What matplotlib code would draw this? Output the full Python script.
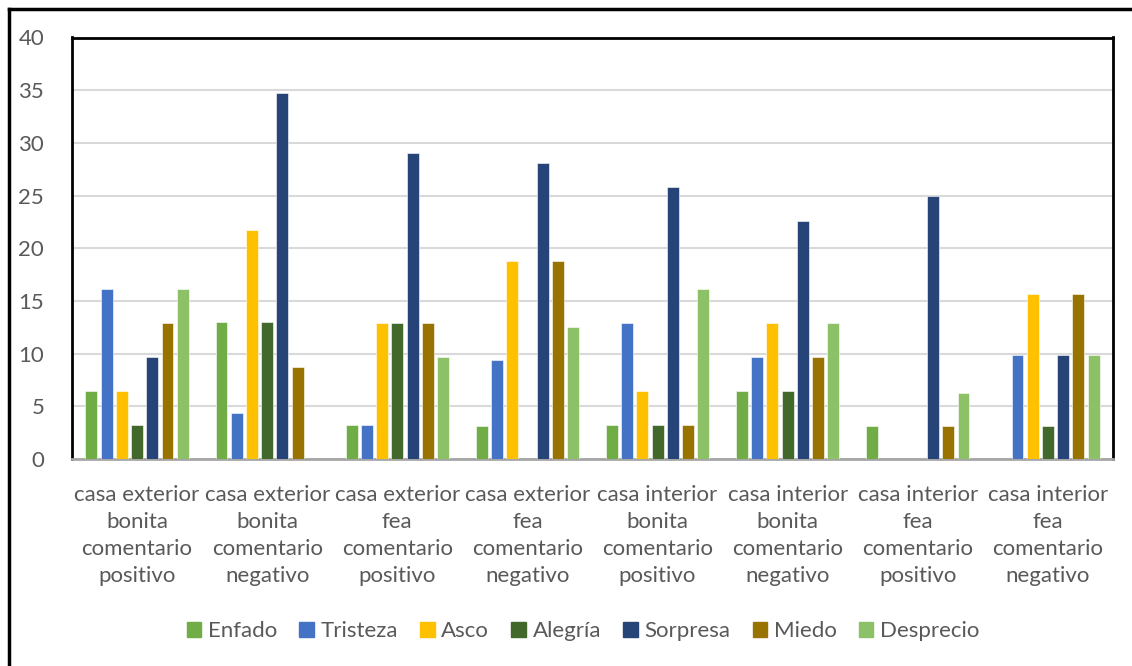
import numpy as np
import matplotlib
matplotlib.use("Agg")
import matplotlib.pyplot as plt
from matplotlib.lines import Line2D

plt.rcParams['font.family'] = ['Lato', 'DejaVu Sans']

categories = [
    "casa exterior\nbonita\ncomentario\npositivo",
    "casa exterior\nbonita\ncomentario\nnegativo",
    "casa exterior\nfea\ncomentario\npositivo",
    "casa exterior\nfea\ncomentario\nnegativo",
    "casa interior\nbonita\ncomentario\npositivo",
    "casa interior\nbonita\ncomentario\nnegativo",
    "casa interior\nfea\ncomentario\npositivo",
    "casa interior\nfea\ncomentario\nnegativo",
]

enfado = [6.45, 13.04, 3.23, 3.13, 3.23, 6.45, 3.13, 0]
tristeza = [16.13, 4.35, 3.23, 9.38, 12.9, 9.68, 0, 9.84]
asco = [6.45, 21.74, 12.9, 18.75, 6.45, 12.9, 0, 15.63]
alegria = [3.23, 13.04, 12.9, 0, 3.23, 6.45, 0, 3.13]
sorpresa = [9.68, 34.78, 29.03, 28.13, 25.81, 22.58, 25.0, 9.84]
miedo = [12.9, 8.7, 12.9, 18.75, 3.23, 9.68, 3.13, 15.63]
desprecio = [16.13, 0, 9.68, 12.5, 16.13, 12.9, 6.25, 9.84]

series_names = ["Enfado", "Tristeza", "Asco", "Alegría", "Sorpresa", "Miedo", "Desprecio"]
series_values = [enfado, tristeza, asco, alegria, sorpresa, miedo, desprecio]
colors = ["#70AD47", "#4472C4", "#FFC000", "#43682B", "#264478", "#997300", "#8CC168"]

TEXT = "#595959"

fig = plt.figure(figsize=(11.32, 6.66), dpi=100)
ax = fig.add_axes([72 / 1132, 1 - 459 / 666, (1113 - 72) / 1132, (459 - 37.5) / 666])

x = np.arange(len(categories))
step = 0.117
width = 0.092
for i, (name, vals, col) in enumerate(zip(series_names, series_values, colors)):
    offs = (i - 3) * step
    ax.bar(x + offs, vals, width=width, color=col, edgecolor="white",
           linewidth=0.4, label=name, zorder=3)

ax.set_xlim(-0.5, len(categories) - 0.5)
ax.set_ylim(0, 40)
ax.set_yticks(np.arange(0, 41, 5))
ax.yaxis.grid(True, color="#D9D9D9", linewidth=1.5, zorder=0)
ax.set_axisbelow(True)

ax.set_xticks(x)
ax.set_xticklabels(categories, fontsize=16, color=TEXT, linespacing=1.42)
ax.tick_params(axis="x", length=0, pad=19)
ax.tick_params(axis="y", length=0, pad=20, labelsize=16, labelcolor=TEXT)

for side in ["left", "top", "right"]:
    ax.spines[side].set_color("black")
    ax.spines[side].set_linewidth(2)
ax.spines["bottom"].set_color("#A6A6A6")
ax.spines["bottom"].set_linewidth(2)

handles = [plt.Rectangle((0, 0), 1, 1, color=c) for c in colors]
fig.legend(handles, series_names, loc="center", bbox_to_anchor=(0.515, 1 - 631 / 666),
           ncol=7, frameon=False, fontsize=16, handlelength=0.65, handleheight=0.65,
           handletextpad=0.3, columnspacing=1.0, labelcolor=TEXT)

# outer frame (left and top only)
fig.add_artist(Line2D([8.5 / 1132, 8.5 / 1132], [0, 1 - 9 / 666], color="black",
                      linewidth=2.5, transform=fig.transFigure))
fig.add_artist(Line2D([8.5 / 1132, 1], [1 - 9 / 666, 1 - 9 / 666], color="black",
                      linewidth=2.5, transform=fig.transFigure))

fig.savefig("out.png", dpi=100)
